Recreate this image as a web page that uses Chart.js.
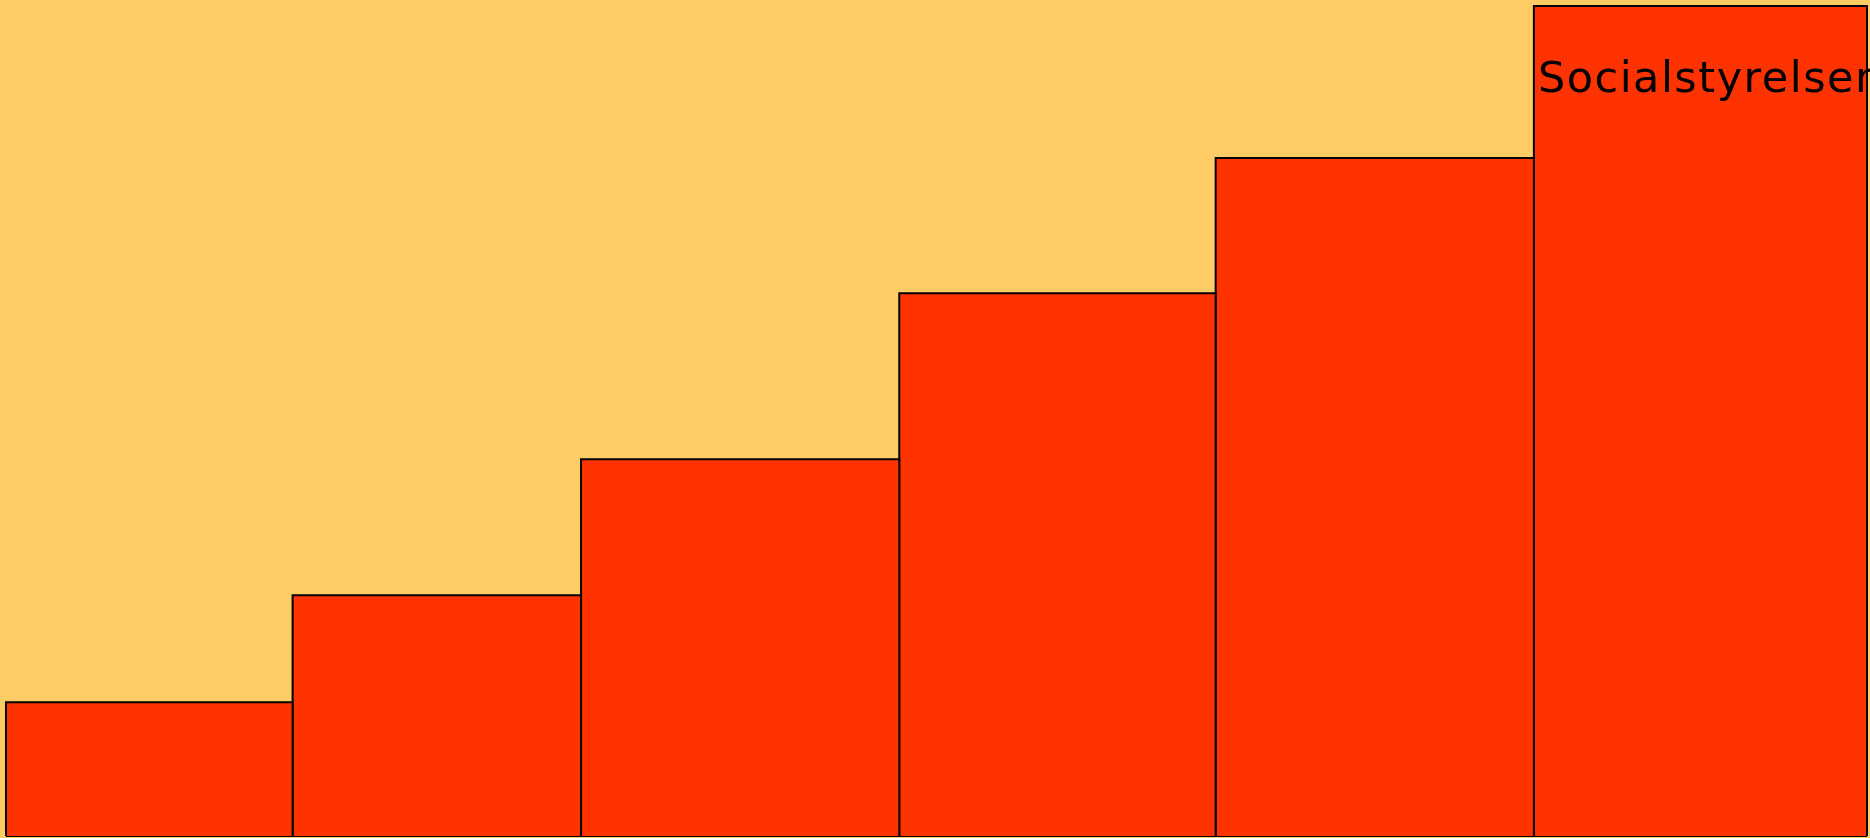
<!DOCTYPE html>
<html>
<head>
<meta charset="utf-8">
<script src="https://cdn.jsdelivr.net/npm/chart.js@4"></script>
<style>
  html, body { margin: 0; padding: 0; background: #ffcc66; }
  #wrap { width: 1870px; height: 838px; }
</style>
</head>
<body>
<div id="wrap"><canvas id="grafica"></canvas></div>
<script>
// bin edges (x) and bar heights (y) of the stepped bars
const edges = [0, 15.4, 30.9, 48.0, 65.0, 82.1, 100];
const heights = [16.1, 29.0, 45.4, 65.4, 81.7, 100];
const label = 'Socialstyrelsen';

// each bar becomes a rectangle drawn as a filled line down to zero
const datasets = heights.map((h, i) => ({
    data: [
        { x: edges[i], y: 0 },
        { x: edges[i], y: h },
        { x: edges[i + 1], y: h },
        { x: edges[i + 1], y: 0 },
    ],
    borderColor: '#000000',
    backgroundColor: '#ff3300',
    borderWidth: 2,
    fill: 'origin',
    tension: 0,
    pointRadius: 0,
    clip: false,
}));

// base line along the bottom of all bars
datasets.push({
    data: [
        { x: edges[0], y: 0 },
        { x: edges[edges.length - 1], y: 0 },
    ],
    borderColor: '#000000',
    borderWidth: 2,
    fill: false,
    pointRadius: 0,
    clip: false,
});

// fondo + texto de la última barra
const fondo = {
    id: 'fondo',
    beforeDraw(chart) {
        const { ctx, width, height } = chart;
        ctx.save();
        ctx.fillStyle = '#ffcc66';
        ctx.fillRect(0, 0, width, height);
        ctx.restore();
    },
    afterDatasetsDraw(chart) {
        const { ctx, scales } = chart;
        const x = scales.x.getPixelForValue(edges[edges.length - 2]) + 4;
        const y = chart.chartArea.top + 86;
        ctx.save();
        ctx.fillStyle = '#000000';
        ctx.font = '43px "DejaVu Sans", sans-serif';
        ctx.letterSpacing = '1.5px';
        ctx.textBaseline = 'alphabetic';
        ctx.fillText(label, x, y);
        ctx.restore();
    },
};

new Chart(document.getElementById('grafica'), {
    type: 'line',
    data: { datasets },
    options: {
        responsive: true,
        maintainAspectRatio: false,
        animation: false,
        layout: { padding: { left: 6, right: 3, top: 6, bottom: 2 } },
        plugins: {
            legend: { display: false },
            tooltip: { enabled: false },
        },
        scales: {
            x: { type: 'linear', min: 0, max: 100, display: false },
            y: { min: 0, max: 100, display: false },
        },
    },
    plugins: [fondo],
});
</script>
</body>
</html>
